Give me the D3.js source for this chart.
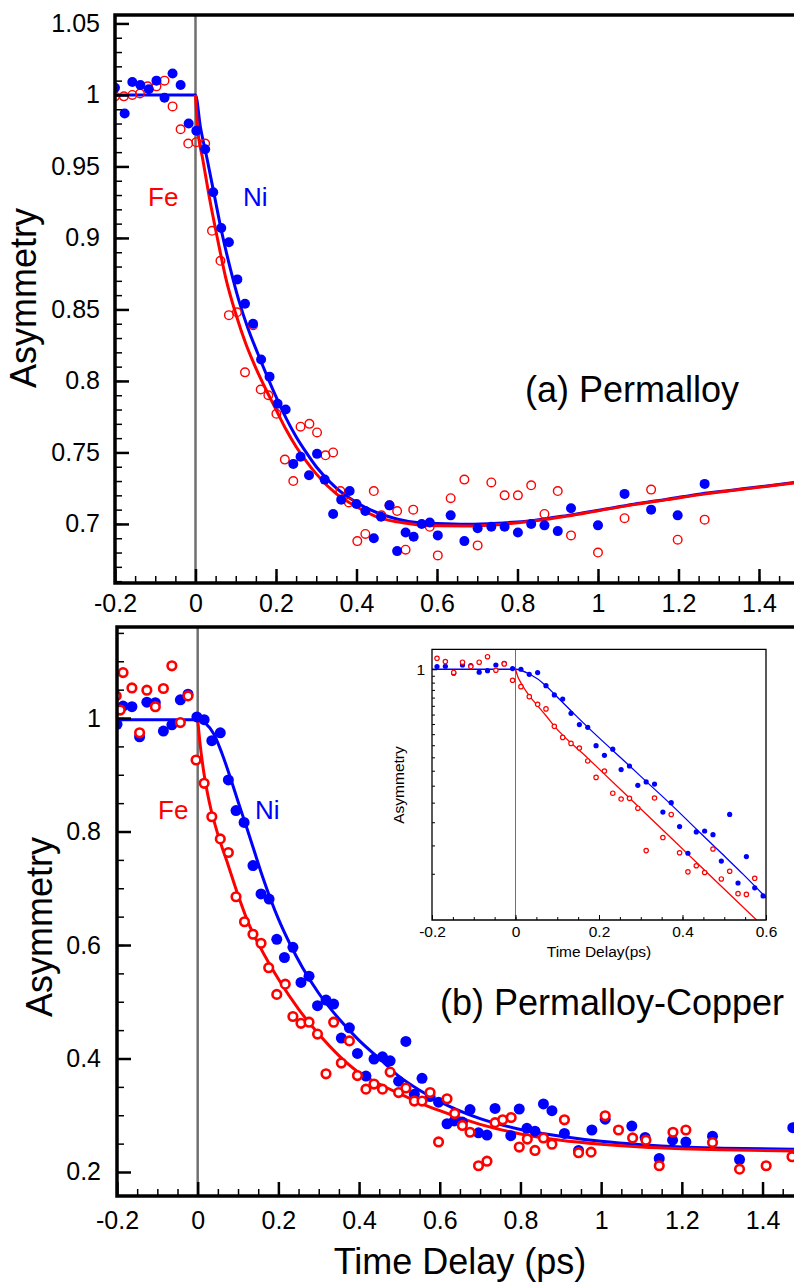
<!DOCTYPE html>
<html>
<head>
<meta charset="utf-8">
<script src="https://cdn.jsdelivr.net/npm/d3@7"></script>
<style>
  body { margin: 0; background: #fff; }
  svg { display: block; font-family: "Liberation Sans", Arial, Helvetica, sans-serif; }
</style>
</head>
<body>
<div id="chart"></div>
<script>
// (a) Permalloy: [time (ps), asymmetry]
const permalloyNi = [
  [-0.200, 1.005], [-0.176, 0.987], [-0.157, 1.009], [-0.137, 1.007], [-0.116, 1.004],
  [-0.097, 1.010], [-0.077, 0.998], [-0.057, 1.015], [-0.037, 1.007], [-0.017, 0.980],
  [0.002, 0.975], [0.024, 0.962], [0.044, 0.932], [0.064, 0.907], [0.083, 0.897],
  [0.104, 0.871], [0.123, 0.854], [0.143, 0.840], [0.163, 0.815], [0.184, 0.803],
  [0.204, 0.784], [0.224, 0.780], [0.243, 0.742], [0.261, 0.747], [0.282, 0.734],
  [0.302, 0.749], [0.321, 0.731], [0.342, 0.707], [0.362, 0.717], [0.383, 0.723],
  [0.400, 0.714], [0.422, 0.709], [0.443, 0.690], [0.461, 0.705], [0.482, 0.713],
  [0.501, 0.681], [0.522, 0.694], [0.542, 0.691], [0.562, 0.700], [0.582, 0.701],
  [0.602, 0.692], [0.634, 0.706], [0.668, 0.688], [0.701, 0.697], [0.735, 0.698],
  [0.768, 0.698], [0.801, 0.694], [0.834, 0.700], [0.867, 0.699], [0.900, 0.695],
  [0.933, 0.711], [1.000, 0.699], [1.066, 0.721], [1.132, 0.710], [1.198, 0.706],
  [1.265, 0.728]
];
const permalloyFe = [
  [-0.200, 0.999], [-0.178, 0.999], [-0.157, 1.000], [-0.138, 1.001], [-0.119, 1.006],
  [-0.097, 1.006], [-0.077, 1.010], [-0.057, 0.992], [-0.037, 0.976], [-0.018, 0.966],
  [0.002, 0.967], [0.024, 0.966], [0.041, 0.905], [0.062, 0.884], [0.083, 0.846],
  [0.103, 0.848], [0.123, 0.806], [0.143, 0.839], [0.162, 0.794], [0.181, 0.790],
  [0.201, 0.777], [0.222, 0.745], [0.243, 0.730], [0.261, 0.768], [0.283, 0.770],
  [0.302, 0.764], [0.323, 0.748], [0.342, 0.750], [0.360, 0.723], [0.381, 0.715],
  [0.402, 0.688], [0.422, 0.693], [0.443, 0.723], [0.462, 0.706], [0.482, 0.713],
  [0.501, 0.709], [0.522, 0.682], [0.541, 0.710], [0.582, 0.698], [0.602, 0.678],
  [0.634, 0.718], [0.668, 0.731], [0.701, 0.685], [0.735, 0.729], [0.768, 0.720],
  [0.801, 0.720], [0.834, 0.727], [0.867, 0.707], [0.900, 0.723], [0.933, 0.692],
  [1.000, 0.680], [1.066, 0.704], [1.132, 0.724], [1.198, 0.689], [1.265, 0.703]
];
const permalloyNiFit = [
  [-0.2, 1.0], [0, 1.0], [0.012, 0.978], [0.029, 0.955], [0.046, 0.931], [0.066, 0.903],
  [0.087, 0.878], [0.108, 0.856], [0.13, 0.837], [0.155, 0.819], [0.18, 0.802],
  [0.2, 0.789], [0.225, 0.774], [0.25, 0.761], [0.275, 0.750], [0.3, 0.740],
  [0.35, 0.725], [0.4, 0.715], [0.45, 0.708], [0.5, 0.7035], [0.55, 0.701],
  [0.6, 0.7003], [0.675, 0.6998], [0.75, 0.7005], [0.84, 0.7025], [0.925, 0.706],
  [1.006, 0.7098], [1.089, 0.7138], [1.172, 0.7173], [1.255, 0.721], [1.338, 0.7238],
  [1.42, 0.7266], [1.5, 0.7295]
];
const permalloyFeFit = [
  [0, 1.0], [0.005, 0.978], [0.018, 0.955], [0.034, 0.929], [0.055, 0.899], [0.076, 0.871],
  [0.1, 0.847], [0.125, 0.826], [0.15, 0.809], [0.175, 0.794], [0.2, 0.780],
  [0.225, 0.766], [0.25, 0.754], [0.275, 0.744], [0.3, 0.735], [0.35, 0.721],
  [0.4, 0.712], [0.45, 0.705], [0.5, 0.7015], [0.55, 0.6995], [0.6, 0.6987],
  [0.675, 0.6985], [0.75, 0.6995], [0.84, 0.702], [0.925, 0.7055], [1.006, 0.7095],
  [1.089, 0.7135], [1.172, 0.717], [1.255, 0.7205], [1.338, 0.7235], [1.42, 0.7263],
  [1.5, 0.729]
];

// (b) Permalloy-Copper
const copperNi = [
  [-0.200, 0.989], [-0.185, 1.021], [-0.163, 1.020], [-0.144, 0.967], [-0.126, 1.028],
  [-0.105, 1.027], [-0.085, 0.977], [-0.064, 0.988], [-0.043, 1.032], [-0.024, 1.042],
  [-0.002, 1.002], [0.016, 0.997], [0.035, 0.960], [0.056, 0.974], [0.076, 0.891],
  [0.095, 0.837], [0.115, 0.816], [0.137, 0.740], [0.157, 0.690], [0.177, 0.681],
  [0.196, 0.610], [0.215, 0.578], [0.236, 0.596], [0.256, 0.534], [0.276, 0.545],
  [0.297, 0.493], [0.318, 0.503], [0.337, 0.496], [0.356, 0.436], [0.376, 0.454],
  [0.396, 0.409], [0.417, 0.369], [0.437, 0.399], [0.458, 0.403], [0.477, 0.396],
  [0.498, 0.360], [0.516, 0.430], [0.537, 0.337], [0.556, 0.365], [0.576, 0.333],
  [0.597, 0.323], [0.618, 0.285], [0.636, 0.290], [0.656, 0.288], [0.675, 0.310],
  [0.696, 0.269], [0.717, 0.265], [0.737, 0.312], [0.776, 0.264], [0.797, 0.311],
  [0.816, 0.277], [0.836, 0.272], [0.857, 0.320], [0.878, 0.308], [0.909, 0.268],
  [0.944, 0.238], [0.977, 0.274], [1.010, 0.293], [1.076, 0.281], [1.109, 0.261],
  [1.144, 0.224], [1.177, 0.256], [1.210, 0.253], [1.276, 0.263], [1.343, 0.222],
  [1.475, 0.278]
];
const copperFe = [
  [-0.202, 1.039], [-0.192, 1.014], [-0.185, 1.080], [-0.163, 1.053], [-0.144, 0.974],
  [-0.126, 1.049], [-0.105, 1.020], [-0.085, 1.052], [-0.064, 1.092], [-0.043, 0.992],
  [-0.024, 1.039], [-0.004, 0.926], [0.016, 0.885], [0.035, 0.826], [0.056, 0.787],
  [0.076, 0.763], [0.095, 0.685], [0.116, 0.641], [0.137, 0.619], [0.157, 0.603],
  [0.176, 0.560], [0.196, 0.513], [0.217, 0.531], [0.236, 0.474], [0.256, 0.462],
  [0.276, 0.464], [0.297, 0.443], [0.318, 0.373], [0.337, 0.464], [0.356, 0.392],
  [0.376, 0.431], [0.396, 0.370], [0.417, 0.346], [0.437, 0.355], [0.458, 0.346],
  [0.477, 0.376], [0.498, 0.340], [0.516, 0.348], [0.537, 0.325], [0.556, 0.325],
  [0.576, 0.340], [0.597, 0.253], [0.618, 0.329], [0.637, 0.303], [0.656, 0.282],
  [0.675, 0.270], [0.696, 0.211], [0.717, 0.219], [0.737, 0.287], [0.756, 0.292],
  [0.777, 0.296], [0.797, 0.244], [0.817, 0.258], [0.836, 0.238], [0.857, 0.260],
  [0.878, 0.249], [0.909, 0.292], [0.944, 0.234], [0.975, 0.235], [1.010, 0.299],
  [1.043, 0.274], [1.078, 0.260], [1.111, 0.256], [1.144, 0.211], [1.178, 0.270],
  [1.210, 0.274], [1.276, 0.252], [1.343, 0.205], [1.409, 0.211], [1.473, 0.227]
];
const copperNiFit = [
  [-0.2, 0.997], [0, 0.997], [0.02, 0.99], [0.04, 0.972], [0.06, 0.938], [0.08, 0.897],
  [0.1, 0.853], [0.12, 0.810], [0.14, 0.766], [0.16, 0.722], [0.18, 0.682],
  [0.2, 0.646], [0.23, 0.600], [0.26, 0.560], [0.3, 0.515], [0.35, 0.470],
  [0.4, 0.432], [0.45, 0.400], [0.5, 0.368], [0.55, 0.344], [0.6, 0.324],
  [0.7, 0.294], [0.8, 0.275], [0.9, 0.263], [1.0, 0.254], [1.1, 0.248],
  [1.2, 0.244], [1.3, 0.242], [1.5, 0.240]
];
const copperFeFit = [
  [0, 0.997], [0.005, 0.96], [0.015, 0.905], [0.03, 0.848], [0.05, 0.795], [0.075, 0.742],
  [0.1, 0.688], [0.125, 0.640], [0.15, 0.603], [0.175, 0.570], [0.2, 0.540],
  [0.25, 0.487], [0.3, 0.443], [0.35, 0.405], [0.4, 0.375], [0.45, 0.355],
  [0.5, 0.338], [0.55, 0.322], [0.6, 0.308], [0.7, 0.284], [0.8, 0.267],
  [0.9, 0.256], [1.0, 0.249], [1.1, 0.244], [1.2, 0.241], [1.3, 0.239], [1.5, 0.237]
];

// inset: log scale view of (b)
const insetNi = [
  [-0.188, 1.021], [-0.168, 1.024], [-0.148, 0.969], [-0.127, 1.034], [-0.107, 1.029],
  [-0.087, 0.977], [-0.067, 0.989], [-0.047, 1.034], [-0.027, 1.048], [-0.007, 1.005],
  [0.013, 1.000], [0.033, 0.961], [0.053, 0.974], [0.073, 0.879], [0.093, 0.817],
  [0.113, 0.791], [0.133, 0.707], [0.153, 0.647], [0.173, 0.633], [0.193, 0.548],
  [0.213, 0.508], [0.233, 0.533], [0.253, 0.454], [0.273, 0.467], [0.293, 0.401],
  [0.313, 0.412], [0.333, 0.405], [0.353, 0.325], [0.373, 0.350], [0.393, 0.290],
  [0.413, 0.235], [0.433, 0.278], [0.453, 0.280], [0.473, 0.272], [0.493, 0.221],
  [0.513, 0.319], [0.533, 0.186], [0.553, 0.229], [0.573, 0.179], [0.593, 0.168]
];
const insetFe = [
  [-0.188, 1.090], [-0.168, 1.062], [-0.148, 0.975], [-0.127, 1.057], [-0.107, 1.021],
  [-0.087, 1.057], [-0.067, 1.104], [-0.047, 0.992], [-0.027, 1.043], [-0.007, 0.917],
  [0.013, 0.872], [0.033, 0.806], [0.053, 0.759], [0.073, 0.732], [0.093, 0.638],
  [0.113, 0.585], [0.133, 0.558], [0.153, 0.538], [0.173, 0.486], [0.193, 0.427],
  [0.213, 0.449], [0.233, 0.377], [0.253, 0.360], [0.273, 0.362], [0.293, 0.335],
  [0.313, 0.240], [0.333, 0.363], [0.353, 0.266], [0.373, 0.319], [0.393, 0.236],
  [0.413, 0.203], [0.433, 0.213], [0.453, 0.202], [0.473, 0.243], [0.493, 0.192],
  [0.513, 0.204], [0.533, 0.171], [0.553, 0.170], [0.573, 0.193]
];
const insetNiFit = [
  [-0.2, 1.0], [0, 1.0], [0.0336, 0.963], [0.0735, 0.877], [0.0935, 0.821], [0.1335, 0.720],
  [0.1735, 0.633], [0.2335, 0.527], [0.2735, 0.467], [0.3135, 0.413], [0.3735, 0.344],
  [0.4335, 0.284], [0.4935, 0.235], [0.5455, 0.199], [0.6015, 0.165]
];
const insetFeFit = [
  [0, 1.0], [0.0056, 0.943], [0.0136, 0.896], [0.0336, 0.810], [0.0536, 0.749],
  [0.0736, 0.692], [0.0935, 0.638], [0.1735, 0.496], [0.2535, 0.386], [0.3335, 0.300],
  [0.4135, 0.233], [0.4935, 0.181], [0.5774, 0.139]
];

// tick labels
const timeTicks = [-0.2, 0, 0.2, 0.4, 0.6, 0.8, 1, 1.2, 1.4];
const permalloyTicks = [0.7, 0.75, 0.8, 0.85, 0.9, 0.95, 1, 1.05];
const copperTicks = [0.2, 0.4, 0.6, 0.8, 1];
const insetTimeTicks = [-0.2, 0, 0.2, 0.4, 0.6];
const insetTicks = [1];

const BLUE = '#0000ff';
const RED = '#ff0000';
const fmt = d => String(+d.toFixed(2));

const svg = d3.select('#chart').append('svg')
  .attr('width', 794)
  .attr('height', 1283);
svg.append('rect').attr('width', 794).attr('height', 1283).attr('fill', '#fff');

function drawPanel(p) {
  const { x, y } = p;
  const [x0, x1] = x.range();
  const [y1, y0] = y.range();

  svg.append('clipPath').attr('id', p.id)
    .append('rect')
    .attr('x', x0).attr('y', y0)
    .attr('width', x1 - x0).attr('height', y1 - y0);

  const g = svg.append('g');
  if (p.fill) {
    g.append('rect').attr('x', x0).attr('y', y0)
      .attr('width', x1 - x0).attr('height', y1 - y0).attr('fill', '#fff');
  }
  const plot = g.append('g').attr('clip-path', `url(#${p.id})`);

  // vertical line at time zero
  plot.append('line')
    .attr('x1', x(0)).attr('x2', x(0))
    .attr('y1', y0).attr('y2', y1)
    .attr('stroke', '#707070')
    .attr('stroke-width', p.zeroWidth);

  const line = d3.line()
    .x(d => x(d[0]))
    .y(d => y(d[1]))
    .curve(d3.curveMonotoneX);

  plot.append('path').datum(p.niFit)
    .attr('d', line).attr('fill', 'none')
    .attr('stroke', BLUE).attr('stroke-width', p.lineWidth);
  plot.append('path').datum(p.feFit)
    .attr('d', line).attr('fill', 'none')
    .attr('stroke', RED).attr('stroke-width', p.lineWidth);

  const drawNi = () => plot.append('g').selectAll('circle')
    .data(p.ni).join('circle')
    .attr('cx', d => x(d[0])).attr('cy', d => y(d[1]))
    .attr('r', p.dotR).attr('fill', BLUE);
  const drawFe = () => plot.append('g').selectAll('circle')
    .data(p.fe).join('circle')
    .attr('cx', d => x(d[0])).attr('cy', d => y(d[1]))
    .attr('r', p.ringR).attr('fill', p.ringFill)
    .attr('stroke', RED).attr('stroke-width', p.ringWidth);
  if (p.redOnTop) { drawNi(); drawFe(); } else { drawFe(); drawNi(); }

  // axes with inward ticks
  const yAxis = g.append('g')
    .attr('transform', `translate(${x0},0)`)
    .call(d3.axisLeft(y).tickValues(p.yTicks).tickFormat(fmt)
      .tickSize(-p.major).tickSizeOuter(0).tickPadding(p.yPad));
  g.append('g')
    .attr('transform', `translate(${x0},0)`)
    .call(d3.axisLeft(y).tickValues(p.yMinor).tickFormat('')
      .tickSize(-p.minor).tickSizeOuter(0));
  const xAxis = g.append('g')
    .attr('transform', `translate(0,${y1})`)
    .call(d3.axisBottom(x).tickValues(p.xTicks).tickFormat(fmt)
      .tickSize(-p.major).tickSizeOuter(0).tickPadding(p.xPad));
  g.append('g')
    .attr('transform', `translate(0,${y1})`)
    .call(d3.axisBottom(x).tickValues(p.xMinor).tickFormat('')
      .tickSize(-p.minor).tickSizeOuter(0));

  g.selectAll('.domain').remove();
  g.selectAll('.tick line').attr('stroke', '#000').attr('stroke-width', p.minorWidth);
  yAxis.selectAll('.tick line').attr('stroke-width', p.majorWidth);
  xAxis.selectAll('.tick line').attr('stroke-width', p.majorWidth);
  g.selectAll('.tick text')
    .attr('fill', '#000')
    .attr('font-family', '"Liberation Sans", Arial, sans-serif')
    .attr('font-size', p.tickFont);

  g.append('path')
    .attr('d', p.frame(x0, x1, y0, y1))
    .attr('fill', 'none')
    .attr('stroke', '#000')
    .attr('stroke-width', p.frameWidth);

  return g;
}

// (a) Permalloy
const xA = d3.scaleLinear().domain([-0.2, 1.487]).range([115, 794]);
const yA = d3.scaleLinear().domain([0.6587, 1.0559]).range([583, 15]);
const gA = drawPanel({
  id: 'clipA', x: xA, y: yA,
  ni: permalloyNi, fe: permalloyFe, niFit: permalloyNiFit, feFit: permalloyFeFit,
  yTicks: permalloyTicks, yMinor: d3.range(0.66, 1.055, 0.01),
  xTicks: timeTicks, xMinor: d3.range(-0.15, 1.48, 0.05),
  major: 14, minor: 7, majorWidth: 2.5, minorWidth: 1.5, frameWidth: 3.5,
  yPad: 15, xPad: 11, tickFont: 25,
  zeroWidth: 2.5, lineWidth: 3,
  dotR: 5, ringR: 4.3, ringWidth: 1.4, ringFill: 'none', redOnTop: false,
  frame: (x0, x1, y0, y1) => `M${x1},${y0}H${x0}V${y1}H${x1}`
});
gA.append('text').attr('x', 148).attr('y', 206).attr('fill', RED)
  .attr('font-size', 26).text('Fe');
gA.append('text').attr('x', 243).attr('y', 206).attr('fill', BLUE)
  .attr('font-size', 26).text('Ni');
gA.append('text').attr('x', 525).attr('y', 402).attr('fill', '#000')
  .attr('font-size', 36).text('(a) Permalloy');
gA.append('text')
  .attr('transform', 'translate(36,298) rotate(-90)')
  .attr('text-anchor', 'middle').attr('font-size', 36).text('Asymmetry');

// (b) Permalloy-Copper
const xB = d3.scaleLinear().domain([-0.2, 1.478]).range([117, 794]);
const yB = d3.scaleLinear().domain([0.1577, 1.1604]).range([1196, 627]);
const gB = drawPanel({
  id: 'clipB', x: xB, y: yB,
  ni: copperNi, fe: copperFe, niFit: copperNiFit, feFit: copperFeFit,
  yTicks: copperTicks, yMinor: d3.range(0.25, 1.16, 0.05),
  xTicks: timeTicks, xMinor: d3.range(-0.15, 1.48, 0.05),
  major: 14, minor: 7, majorWidth: 2.5, minorWidth: 1.5, frameWidth: 3.5,
  yPad: 16, xPad: 15, tickFont: 25,
  zeroWidth: 2.5, lineWidth: 3,
  dotR: 5.5, ringR: 4.3, ringWidth: 2.6, ringFill: '#fff', redOnTop: true,
  frame: (x0, x1, y0, y1) => `M${x1},${y0}H${x0}V${y1}H${x1}`
});
gB.append('text').attr('x', 158).attr('y', 819).attr('fill', RED)
  .attr('font-size', 26).text('Fe');
gB.append('text').attr('x', 255).attr('y', 819).attr('fill', BLUE)
  .attr('font-size', 26).text('Ni');
gB.append('text').attr('x', 440).attr('y', 1015).attr('fill', '#000')
  .attr('font-size', 36).text('(b) Permalloy-Copper');
gB.append('text')
  .attr('transform', 'translate(52,927) rotate(-90)')
  .attr('text-anchor', 'middle').attr('font-size', 36).text('Asymmetry');
gB.append('text')
  .attr('x', 460).attr('y', 1274)
  .attr('text-anchor', 'middle').attr('font-size', 36).text('Time Delay (ps)');

// inset
const xI = d3.scaleLinear().domain([-0.2, 0.6]).range([432, 766]);
const yI = d3.scaleLog().domain([0.139, 1.17]).range([920, 649.3]);
const gI = drawPanel({
  id: 'clipI', x: xI, y: yI, fill: true,
  ni: insetNi, fe: insetFe, niFit: insetNiFit, feFit: insetFeFit,
  yTicks: insetTicks, yMinor: d3.range(0.2, 0.96, 0.05),
  xTicks: insetTimeTicks, xMinor: d3.range(-0.15, 0.6, 0.05),
  major: 5, minor: 3, majorWidth: 1, minorWidth: 1, frameWidth: 1.3,
  yPad: 7, xPad: 6, tickFont: 15.5,
  zeroWidth: 1, lineWidth: 1.3,
  dotR: 2.6, ringR: 2.2, ringWidth: 1.2, ringFill: '#fff', redOnTop: true,
  frame: (x0, x1, y0, y1) => `M${x0},${y0}H${x1}V${y1}H${x0}Z`
});
gI.append('text')
  .attr('x', 599).attr('y', 957)
  .attr('text-anchor', 'middle').attr('font-size', 15.5).text('Time Delay(ps)');
gI.append('text')
  .attr('transform', 'translate(404,785) rotate(-90)')
  .attr('text-anchor', 'middle').attr('font-size', 15.5).text('Asymmetry');
</script>
</body>
</html>
